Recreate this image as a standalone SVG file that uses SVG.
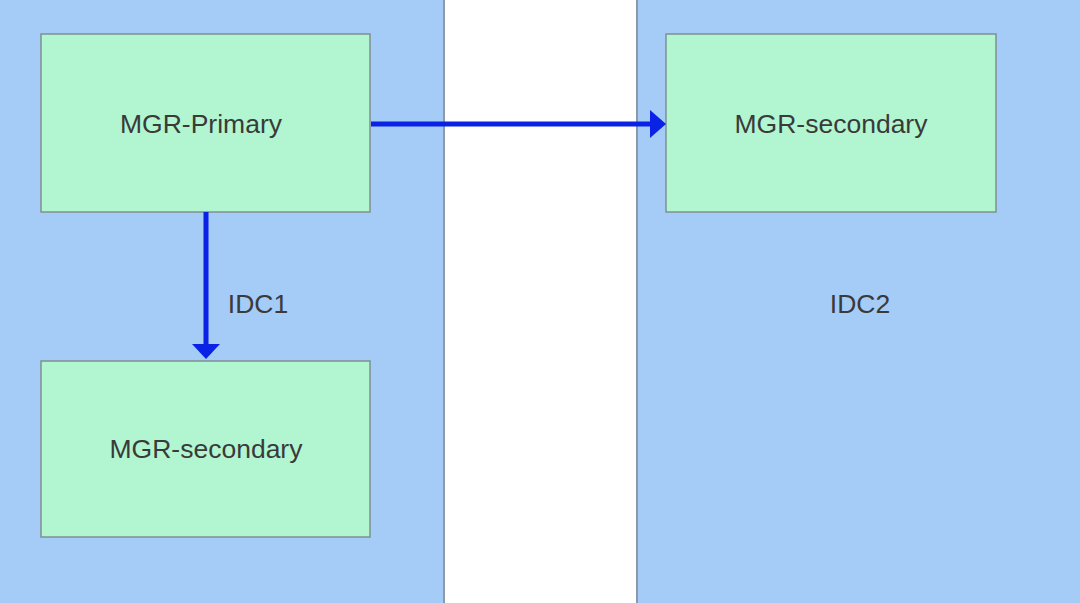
<svg xmlns="http://www.w3.org/2000/svg" width="1080" height="603" viewBox="0 0 1080 603">
<defs>
<style>
.panel{fill:#a5cbf7;stroke:#8a9aa8;stroke-width:2}
.box{fill:#b1f6d0;stroke:#7f9090;stroke-width:1.5}
.lbl{font-family:"Liberation Sans",Arial,sans-serif;font-size:26.5px;fill:#3a3a3a;text-anchor:middle;dominant-baseline:central}
.conn{stroke:#0a22e6;stroke-width:5;fill:none}
.head{fill:#0a22e6}
</style>
</defs>
<rect width="1080" height="603" fill="#ffffff"/>
<g id="idc1">
<rect class="panel" x="-2" y="-2" width="446" height="607"/>
<text class="lbl" x="258" y="304">IDC1</text>
</g>
<g id="idc2">
<rect class="panel" x="637" y="-2" width="446" height="607"/>
<text class="lbl" x="860" y="304">IDC2</text>
</g>
<g id="mgr-primary">
<rect class="box" x="41" y="34" width="329" height="178"/>
<text class="lbl" x="201" y="124">MGR-Primary</text>
</g>
<g id="mgr-secondary-1">
<rect class="box" x="41" y="361" width="329" height="176"/>
<text class="lbl" x="206" y="449">MGR-secondary</text>
</g>
<g id="mgr-secondary-2">
<rect class="box" x="666" y="34" width="330" height="178"/>
<text class="lbl" x="831" y="124">MGR-secondary</text>
</g>
<g id="connectors">
<line class="conn" x1="371" y1="124" x2="652" y2="124"/>
<polygon class="head" points="666,124 650,110 650,138"/>
<line class="conn" x1="206" y1="212" x2="206" y2="345"/>
<polygon class="head" points="206,359 192,344 220,344"/>
</g>
</svg>
